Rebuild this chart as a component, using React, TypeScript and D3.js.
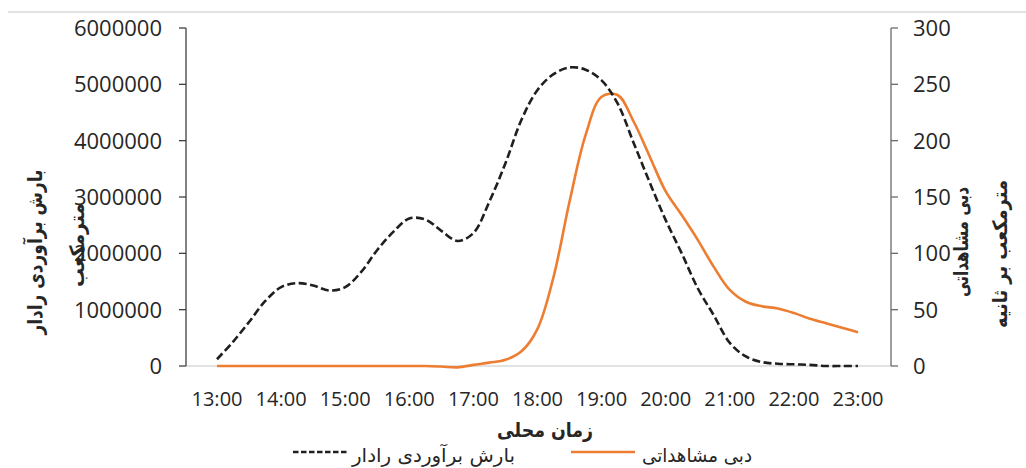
import React from "react";
import * as d3 from "d3";

const times = [
  "13:00","13:15","13:30","13:45","14:00","14:15","14:30","14:45",
  "15:00","15:15","15:30","15:45","16:00","16:15","16:30","16:45",
  "17:00","17:15","17:30","17:45","18:00","18:15","18:30","18:45",
  "19:00","19:15","19:30","19:45","20:00","20:15","20:30","20:45",
  "21:00","21:15","21:30","21:45","22:00","22:15","22:30","22:45","23:00",
];

// Radar estimated rainfall (m³) – left axis
const radarRain = [
  120000, 430000, 780000, 1150000, 1400000, 1470000, 1430000, 1340000,
  1400000, 1670000, 2060000, 2380000, 2620000, 2600000, 2400000, 2220000,
  2360000, 2920000, 3600000, 4370000, 4900000, 5180000, 5300000, 5260000,
  5070000, 4660000, 3960000, 3260000, 2590000, 2000000, 1380000, 900000,
  410000, 170000, 70000, 40000, 30000, 20000, 0, 0, 0,
];

// Observed discharge (m³/s) – right axis
const observedFlow = [
  0, 0, 0, 0, 0, 0, 0, 0,
  0, 0, 0, 0, 0, 0, -0.5, -1.2,
  1, 3, 5.5, 13, 33, 79, 146, 205,
  239, 240.5, 217, 186, 155, 134, 112, 88,
  67.5, 57, 53, 51, 47, 42, 38, 34, 30,
];

const hourLabels = ["13:00","14:00","15:00","16:00","17:00","18:00","19:00","20:00","21:00","22:00","23:00"];
const leftTicks = [0, 1000000, 2000000, 3000000, 4000000, 5000000, 6000000];
const rightTicks = [0, 50, 100, 150, 200, 250, 300];

const seriesNames = ["دبی مشاهداتی", "بارش برآوردی رادار"];
const leftTitle = ["بارش برآوردی رادار", "مترمکعب"];
const rightTitle = ["دبی مشاهداتی", "مترمکعب بر ثانیه"];
const xTitle = "زمان محلی";

const toHours = (s: string) => {
  const [h, m] = s.split(":").map(Number);
  return h + m / 60;
};

const W = 1026;
const H = 468;
const NUM_FONT = "'Open Sans', 'Liberation Sans', sans-serif";
const AR_FONT = "'DejaVu Sans', 'Noto Sans', sans-serif";

function ArText(props: {
  text: string;
  transform?: string;
  x?: number;
  y?: number;
  anchor: string;
  size: number;
  bold?: boolean;
  len: number;
}) {
  return (
    <text
      transform={props.transform}
      x={props.x}
      y={props.y}
      textAnchor={props.anchor}
      fontFamily={AR_FONT}
      fontWeight={props.bold ? "bold" : "normal"}
      fontSize={props.size}
      fill="#262626"
      direction="rtl"
      textLength={props.len}
      lengthAdjust="spacingAndGlyphs"
    >
      {props.text}
    </text>
  );
}

export default function App() {
  const x = d3.scaleLinear().domain([13, 23]).range([217, 858]);
  const yL = d3.scaleLinear().domain([0, 6000000]).range([366, 28]);
  const yR = d3.scaleLinear().domain([0, 300]).range([366, 28]);

  const rainLine = d3
    .line<number>()
    .x((_, i) => x(toHours(times[i])))
    .y((d) => yL(d))
    .curve(d3.curveCatmullRom.alpha(0.5));
  const flowLine = d3
    .line<number>()
    .x((_, i) => x(toHours(times[i])))
    .y((d) => yR(d))
    .curve(d3.curveCatmullRom.alpha(0.5));

  const x0 = 186;
  const x1 = 891;
  const yBase = yL(0);

  return (
    <svg
      width={W}
      height={H}
      style={{ position: "fixed", left: 0, top: 0, background: "#fff" }}
    >
      <rect x={0} y={0} width={W} height={H} fill="#fff" />
      <line x1={8} x2={W} y1={12} y2={12} stroke="#d9d9d9" strokeWidth={1.5} />

      {/* x axis baseline */}
      <line x1={x0} x2={x1} y1={yBase} y2={yBase} stroke="#d9d9d9" strokeWidth={1.5} />

      {/* left axis */}
      <line x1={x0} x2={x0} y1={yL(6000000)} y2={yBase} stroke="#404040" strokeWidth={1.3} />
      {leftTicks.map((t) => (
        <g key={"l" + t}>
          <line x1={x0 - 7} x2={x0} y1={yL(t)} y2={yL(t)} stroke="#404040" strokeWidth={1.3} />
          <text
            x={162}
            y={yL(t)}
            dy="0.36em"
            textAnchor="end"
            fontFamily={NUM_FONT}
            fontSize={22}
            fill="#262626"
          >
            {t}
          </text>
        </g>
      ))}

      {/* right axis */}
      <line x1={x1} x2={x1} y1={yR(300)} y2={yBase} stroke="#6b6b6b" strokeWidth={1.3} />
      {rightTicks.map((t) => (
        <g key={"r" + t}>
          <line x1={x1} x2={x1 + 7} y1={yR(t)} y2={yR(t)} stroke="#6b6b6b" strokeWidth={1.3} />
          <text
            x={913}
            y={yR(t)}
            dy="0.36em"
            textAnchor="start"
            fontFamily={NUM_FONT}
            fontSize={22}
            fill="#262626"
          >
            {t}
          </text>
        </g>
      ))}

      {/* x labels */}
      {hourLabels.map((h) => (
        <text
          key={h}
          x={x(toHours(h))}
          y={406}
          textAnchor="middle"
          fontFamily={NUM_FONT}
          fontSize={20}
          fill="#262626"
        >
          {h}
        </text>
      ))}

      {/* series */}
      <path
        d={flowLine(observedFlow) || ""}
        fill="none"
        stroke="#ED7D31"
        strokeWidth={2.6}
        strokeLinejoin="round"
      />
      <path
        d={rainLine(radarRain) || ""}
        fill="none"
        stroke="#1f1f1f"
        strokeWidth={2.6}
        strokeDasharray="8,3.5"
      />

      {/* axis titles */}
      <ArText text={leftTitle[0]} transform="translate(42,252) rotate(-90)" anchor="middle" size={20} bold len={165} />
      <ArText text={leftTitle[1]} transform="translate(84,245) rotate(-90)" anchor="middle" size={20} bold len={84} />
      <ArText text={rightTitle[0]} transform="translate(968,242) rotate(-90)" anchor="middle" size={20} bold len={110} />
      <ArText text={rightTitle[1]} transform="translate(1007,254) rotate(-90)" anchor="middle" size={20} bold len={148} />
      <ArText text={xTitle} x={545} y={437} anchor="middle" size={20} bold len={96} />

      {/* legend */}
      <line x1={571} x2={635} y1={452} y2={452} stroke="#ED7D31" strokeWidth={2.6} />
      <ArText text={seriesNames[0]} x={752} y={462} anchor="start" size={19} len={110} />
      <line
        x1={293}
        x2={347}
        y1={452}
        y2={452}
        stroke="#1f1f1f"
        strokeWidth={2.4}
        strokeDasharray="5.5,2.5"
      />
      <ArText text={seriesNames[1]} x={515} y={462} anchor="start" size={19} len={163} />
    </svg>
  );
}
